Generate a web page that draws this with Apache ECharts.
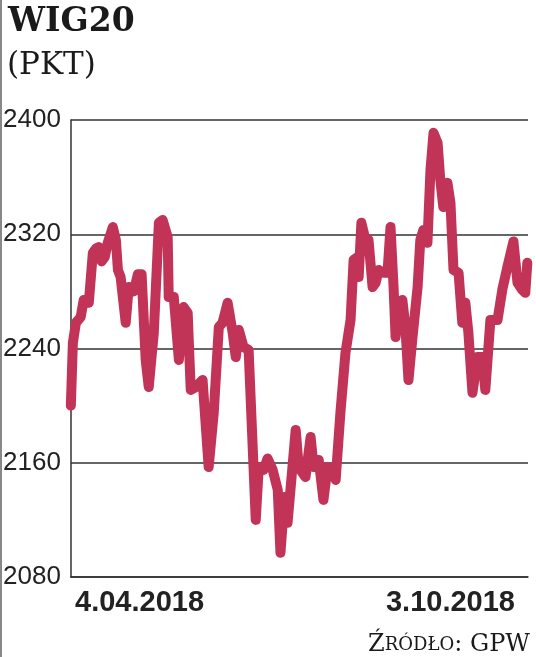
<!DOCTYPE html>
<html>
<head>
<meta charset="utf-8">
<script src="https://cdn.jsdelivr.net/npm/echarts@6/dist/echarts.min.js"></script>
<style>
  html, body { margin: 0; padding: 0; background: #fff; }
  #main { width: 536px; height: 657px; }
</style>
</head>
<body>
<div id="main"></div>
<script>
// sesja (dzień notowań od 4.04.2018) i wartość indeksu
const days = [0, 0.6, 1.5, 2.9, 3.8, 5.3, 6.5, 7.4, 8.3, 9.1, 10.0, 10.9, 12.4, 13.3, 13.9, 14.7,
  16.2, 17.1, 18.6, 19.8, 20.9, 22.1, 23.0, 24.5, 26.0, 27.1, 28.6, 28.9, 30.4, 31.9, 33.3, 34.5,
  35.4, 36.9, 38.9, 40.7, 42.2, 43.7, 44.8, 46.3, 47.8, 48.7, 49.6, 51.0, 52.5, 54.6, 55.5, 56.9,
  58.1, 59.6, 61.1, 61.9, 63.1, 64.0, 66.4, 67.3, 68.4, 69.3, 70.8, 71.7, 73.2, 74.6, 75.8, 77.3,
  78.2, 79.6, 81.1, 82.6, 83.5, 84.7, 85.0, 85.8, 87.0, 87.9, 89.1, 90.0, 90.9, 92.3, 93.5, 94.4,
  95.3, 95.9, 96.8, 97.9, 98.8, 99.7, 100.9, 102.4, 103.2, 104.1, 105.3, 106.2, 107.1, 108.3, 109.1,
  110.0, 111.2, 112.1, 113.0, 114.5, 115.6, 116.5, 117.4, 118.6, 120.1, 121.5, 122.4, 123.9, 126.0,
  127.4, 128.9, 130.7, 131.9, 133.3, 134.2, 134.8]
const wig20 = [2200, 2244, 2258, 2262, 2274, 2272, 2307, 2310, 2311, 2301, 2304, 2314, 2325, 2316, 2295, 2290,
  2258, 2283, 2280, 2292, 2292, 2232, 2213, 2251, 2328, 2330, 2318, 2276, 2276, 2232, 2269, 2265,
  2211, 2213, 2218, 2157, 2195, 2255, 2258, 2272, 2251, 2234, 2253, 2241, 2239, 2120, 2157, 2155,
  2163, 2155, 2141, 2097, 2136, 2118, 2183, 2157, 2153, 2150, 2178, 2157, 2162, 2134, 2157, 2155,
  2148, 2195, 2237, 2260, 2302, 2304, 2290, 2328, 2316, 2316, 2283, 2286, 2295, 2293, 2293, 2325,
  2283, 2248, 2272, 2274, 2255, 2218, 2248, 2283, 2316, 2323, 2314, 2365, 2391, 2384, 2358,
  2339, 2356, 2342, 2295, 2293, 2258, 2272, 2251, 2209, 2234, 2234, 2211, 2260, 2260,
  2281, 2297, 2315, 2286, 2281, 2279, 2300]
const yTicks = [2080, 2160, 2240, 2320, 2400]
const dateLabels = ['4.04.2018', '3.10.2018']

const ink = '#222'
const serif = '"DejaVu Serif", "Liberation Serif", serif'
const sans = '"Liberation Sans", Arial, sans-serif'

var chart = echarts.init(document.getElementById('main'), null, { renderer: 'canvas' })

const option = {
  animation: false,
  backgroundColor: '#fff',
  title: [
    {
      text: 'WIG20',
      left: 3, top: 1,
      textStyle: { fontFamily: serif, fontWeight: 'bold', fontSize: 33, color: '#1a1a1a' }
    },
    {
      text: '(PKT)',
      left: 2, top: 45,
      textStyle: { fontFamily: serif, fontWeight: 'normal', fontSize: 31, color: '#1a1a1a' }
    },
    {
      // "Źródło" w kapitalikach
      text: '{c|Ź}{s|RÓDŁO}{c|: GPW}',
      right: 1, top: 628,
      textStyle: {
        rich: {
          c: { fontFamily: serif, fontWeight: 'normal', fontSize: 24, color: '#1a1a1a' },
          s: { fontFamily: serif, fontWeight: 'normal', fontSize: 18, color: '#1a1a1a' }
        }
      }
    }
  ],
  grid: { left: 70, right: 8, top: 120, bottom: 80, containLabel: false },
  xAxis: {
    type: 'value',
    min: 0,
    max: 135,
    axisLine: { show: true, lineStyle: { color: '#333', width: 1.5 } },
    axisTick: { show: false },
    axisLabel: { show: false },
    splitLine: { show: false }
  },
  yAxis: {
    type: 'value',
    min: yTicks[0],
    max: yTicks[yTicks.length - 1],
    interval: 80,
    axisLine: { show: true, lineStyle: { color: '#333', width: 1.5 } },
    axisTick: { show: false },
    axisLabel: {
      margin: 10,
      fontFamily: sans,
      fontSize: 26,
      color: ink,
      formatter: v => String(v)
    },
    splitLine: { show: true, lineStyle: { color: '#333', width: 1.5 } }
  },
  graphic: [
    {
      type: 'text', left: 75, top: 588,
      style: { text: dateLabels[0], fontFamily: sans, fontWeight: 'bold', fontSize: 29, fill: ink }
    },
    {
      type: 'text', right: 21, top: 588,
      style: { text: dateLabels[1], fontFamily: sans, fontWeight: 'bold', fontSize: 29, fill: ink }
    },
    {
      // lewa krawędź skanu
      type: 'rect', left: 0, top: 0,
      shape: { x: 0, y: 0, width: 2, height: 657 },
      style: { fill: '#888' }
    }
  ],
  series: [
    {
      type: 'line',
      data: days.map((d, i) => [d, wig20[i]]),
      showSymbol: false,
      lineStyle: { color: '#c23358', width: 10, join: 'round', cap: 'round' },
      z: 3
    }
  ]
}

chart.setOption(option)
</script>
</body>
</html>
